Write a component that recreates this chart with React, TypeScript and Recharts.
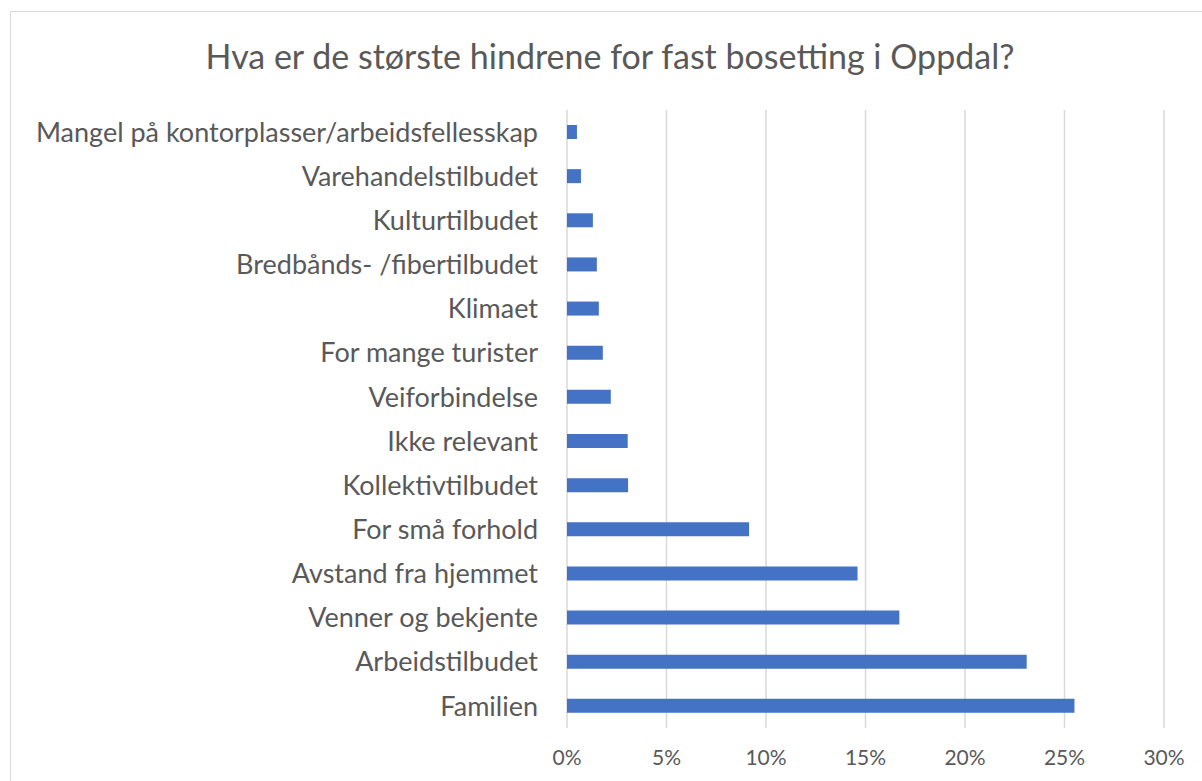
import React from "react";
import { BarChart, Bar, XAxis, YAxis, CartesianGrid } from "recharts";

const categories: string[] = [
  "Mangel på kontorplasser/arbeidsfellesskap",
  "Varehandelstilbudet",
  "Kulturtilbudet",
  "Bredbånds- /fibertilbudet",
  "Klimaet",
  "For mange turister",
  "Veiforbindelse",
  "Ikke relevant",
  "Kollektivtilbudet",
  "For små forhold",
  "Avstand fra hjemmet",
  "Venner og bekjente",
  "Arbeidstilbudet",
  "Familien",
];

const shares: number[] = [0.5, 0.7, 1.3, 1.5, 1.6, 1.8, 2.2, 3.05, 3.07, 9.15, 14.6, 16.7, 23.1, 25.5];

const xTicks: number[] = [0, 5, 10, 15, 20, 25, 30];

const data = categories.map((name, i) => ({ name, value: shares[i] }));

const font = "Lato, 'Open Sans', sans-serif";

const App: React.FC = () => {
  return (
    <div style={{ position: "absolute", left: 0, top: 0, width: 1202, height: 781, background: "#fff", overflow: "hidden", fontFamily: font }}>
      <div
        style={{
          position: "absolute",
          left: 10,
          top: 11,
          width: 1200,
          height: 790,
          border: "1px solid #d9d9d9",
        }}
      />
      <div
        style={{
          position: "absolute",
          left: 10,
          width: 1200,
          top: 35,
          textAlign: "center",
          fontSize: 34,
          color: "#595959",
        }}
      >
        Hva er de største hindrene for fast bosetting i Oppdal?
      </div>
      <div style={{ position: "absolute", left: 0, top: 0 }}>
        <BarChart
          width={1202}
          height={781}
          data={data}
          layout="vertical"
          margin={{ top: 110, right: 38, bottom: 0, left: 0 }}
          barCategoryGap={0}
        >
          <CartesianGrid horizontal={false} stroke="#d9d9d9" strokeWidth={1.5} />
          <XAxis
            type="number"
            domain={[0, 30]}
            ticks={xTicks}
            tickFormatter={(v: number) => `${v}%`}
            axisLine={false}
            tickLine={false}
            height={53}
            tick={{ fill: "#595959", fontSize: 21, fontFamily: font }}
            dy={14}
          />
          <YAxis
            type="category"
            dataKey="name"
            width={567}
            axisLine={false}
            tickLine={false}
            interval={0}
            tick={{ fill: "#595959", fontSize: 27, fontFamily: font }}
            dx={-21}
          />
          <Bar dataKey="value" fill="#4472C4" barSize={14} isAnimationActive={false} />
        </BarChart>
      </div>
    </div>
  );
};

export default App;
